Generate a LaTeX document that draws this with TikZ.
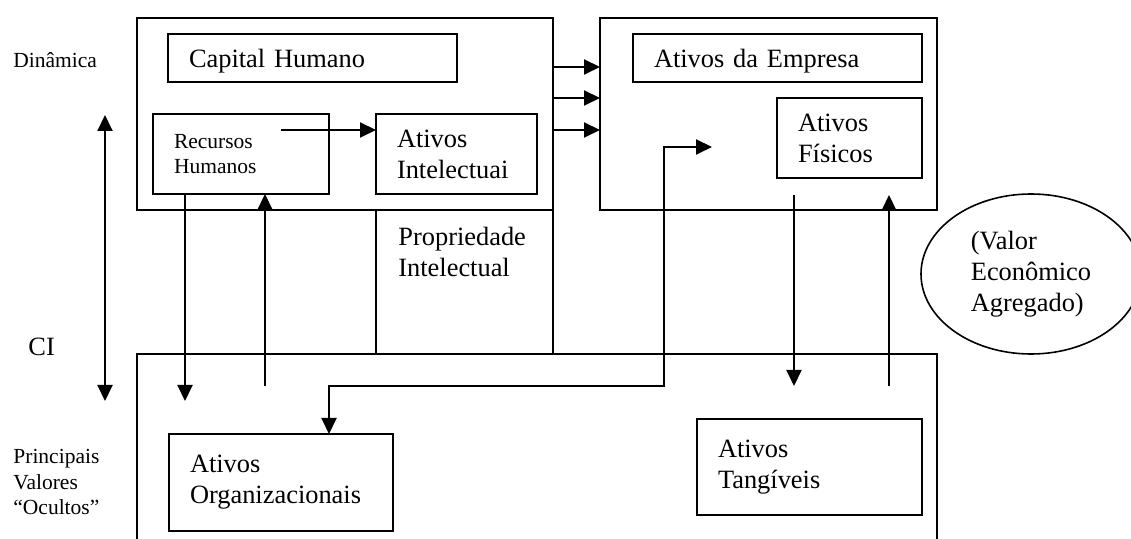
\documentclass[tikz,border=0pt]{standalone}
\usepackage{fontspec}
\setmainfont{Liberation Serif}
\usetikzlibrary{arrows.meta,shapes.geometric}
\newcommand{\bigtxt}{\fontsize{13.2}{15.5}\selectfont}
\newcommand{\smalltxt}{\fontsize{10.75}{12.8}\selectfont}

\begin{document}
\begin{tikzpicture}[x=0.5pt, y=-0.5pt, >={Triangle[length=8pt,width=7.5pt]}]
                \useasboundingbox (0,0) rectangle (1131,539);
                \begin{scope}[
                        every node/.style={draw, line width=0.8pt, anchor=north west, outer sep=0pt, inner xsep=10.5pt, align=left, font=\bigtxt}
                    ]

                    \node[minimum width=208pt, minimum height=96pt] (hum) at (137,18) {};
                    \node[minimum width=168.5pt, minimum height=96pt] (emp) at (600,18) {};
                    \node[minimum width=88.5pt, minimum height=72pt] (prop) at (376,210) {};
                    \node[minimum width=400pt, minimum height=103pt] (base) at (137,354) {};

                    \node[text width=123.5pt, minimum height=24pt, text depth=0pt] (cap) at (168,34) {Capital Humano};
                    \node[text width=67pt, minimum height=40pt, font=\smalltxt] (rec) at (153,114) {Recursos\\Humanos};
                    \node[text width=59.5pt, minimum height=40pt] (intel) at (376,114) {Ativos\\Intelectuai};
                    \node[text width=123.5pt, minimum height=24pt, text depth=0pt] (empresa) at (633,34) {Ativos da Empresa};
                    \node[text width=51.5pt, minimum height=40pt] (fis) at (777,98) {Ativos\\Físicos};
                    \node[text width=91pt, minimum height=48.5pt] (org) at (169,434) {Ativos\\Organizacionais};
                    \node[text width=91.5pt, minimum height=48pt] (tang) at (697,419) {Ativos\\Tangíveis};
                \end{scope}

                \node[draw, ellipse, line width=0.8pt, minimum width=110pt, minimum height=80pt, inner sep=0pt, align=left, font=\bigtxt] (eva) at (1031,274) {(Valor\\Econômico\\Agregado)};

                \begin{scope}[
                        every node/.style={inner sep=0pt, anchor=base west, align=left}
                    ]
                    \node[font=\smalltxt] (din) at (13,68) {Dinâmica};
                    \node[font=\bigtxt] (ci) at (28,356) {CI};
                    \node[font=\smalltxt, anchor=north west] (princ) at (13,449) {Principais\\Valores\\“Ocultos”};
                    \node[font=\bigtxt, anchor=north west] (proptxt) at (398,227) {Propriedade\\Intelectual};
                \end{scope}

                \coordinate (dtop) at (105,115);
                \coordinate (dbot) at (105,401);
                \coordinate (recout) at (281,130);
                \coordinate (rhdown) at (185,401);
                \coordinate (rhup) at (265,386);
                \coordinate (bend) at (664,386);
                \coordinate (empin) at (712,147);
                \coordinate (fdown) at (794,195);
                \coordinate (tup) at (889,386);

                \begin{scope}[line width=1pt]
                    \draw[<->] (dtop) -- (dbot);
                    \draw[->] (recout) -- (recout -| intel.west);
                    \draw[->] (rhdown |- rec.south) -- (rhdown);
                    \draw[->] (rhup) -- (rhup |- rec.south);
                    \foreach \y in {67,98,130}
                        \draw[->] (hum.east |- 0,\y) -- (emp.west |- 0,\y);
                    \draw[<->] ([xshift=24pt]org.north) |- (bend) |- (empin);
                    \draw[->] (fdown) -- (fdown |- bend);
                    \draw[->] (tup) -- (tup |- fdown);
                \end{scope}
            \end{tikzpicture}
\end{document}
